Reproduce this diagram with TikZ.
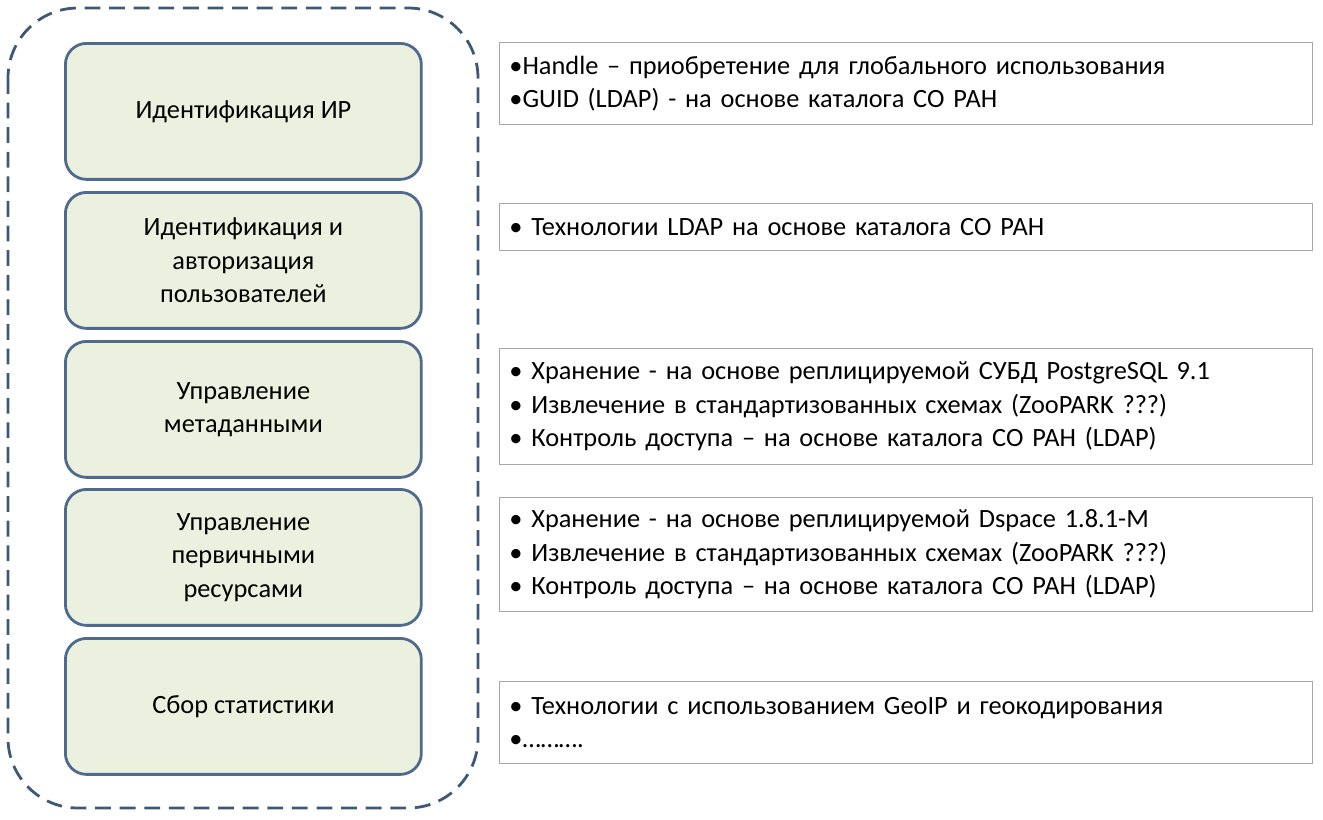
\documentclass[tikz,border=0pt]{standalone}
\usepackage{fontspec}
\setmainfont{Carlito}
\usetikzlibrary{positioning}
\definecolor{boxfill}{HTML}{EBF1DE}
\definecolor{boxline}{HTML}{4F6A8C}
\definecolor{dashline}{HTML}{3E5878}
\tikzset{
  func/.style={draw=boxline, line width=1.6pt, fill=boxfill, rounded corners=12pt,
    minimum width=7.12cm, align=center, font=\fontsize{15}{19}\selectfont},
  tech/.style={draw=gray!70, line width=0.5pt, fill=white,
    align=left, anchor=north west, text width=15.86cm, inner xsep=0.2cm,
    font=\fontsize{15}{19}\selectfont}
}
\begin{document}
\begin{tikzpicture}[x=0.02cm,y=-0.02cm]
  \useasboundingbox (0,0) rectangle (1323,819);
  % outer dashed frame
  \draw[dashline, line width=1.6pt, dash pattern=on 9pt off 5pt, rounded corners=1.4cm]
    (8,8) rectangle (478,808);

  % left column
  \foreach \n/\y/\txt in {f1/42/{Идентификация ИР}, f2/191/{Идентификация и\\авторизация\\пользователей},
      f3/340/{Управление\\метаданными}, f4/488/{Управление\\первичными\\ресурсами},
      f5/637/{Сбор статистики}} {
    \node[func, minimum height=2.72cm, anchor=north west] (\n) at (64,\y) {\txt};
  }

  % right column
  \node[tech, minimum height=1.64cm] (t1) at (499,42)
    {•Handle – приобретение для глобального использования\\•GUID (LDAP) - на основе каталога СО РАН};
  \node[tech, minimum height=0.94cm] (t2) at (499,203)
    {• Технологии LDAP на основе каталога СО РАН};
  \node[tech, minimum height=2.32cm] (t3) at (499,348)
    {• Хранение - на основе реплицируемой СУБД PostgreSQL 9.1\\• Извлечение в стандартизованных схемах (ZooPARK ???)\\• Контроль доступа – на основе каталога СО РАН (LDAP)};
  \node[tech, minimum height=2.28cm] (t4) at (499,497)
    {• Хранение - на основе реплицируемой Dspace 1.8.1-M\\• Извлечение в стандартизованных схемах (ZooPARK ???)\\• Контроль доступа – на основе каталога СО РАН (LDAP)};
  \node[tech, minimum height=1.64cm] (t5) at (499,681)
    {• Технологии с использованием GeoIP и геокодирования\\•……….};
\end{tikzpicture}
\end{document}
